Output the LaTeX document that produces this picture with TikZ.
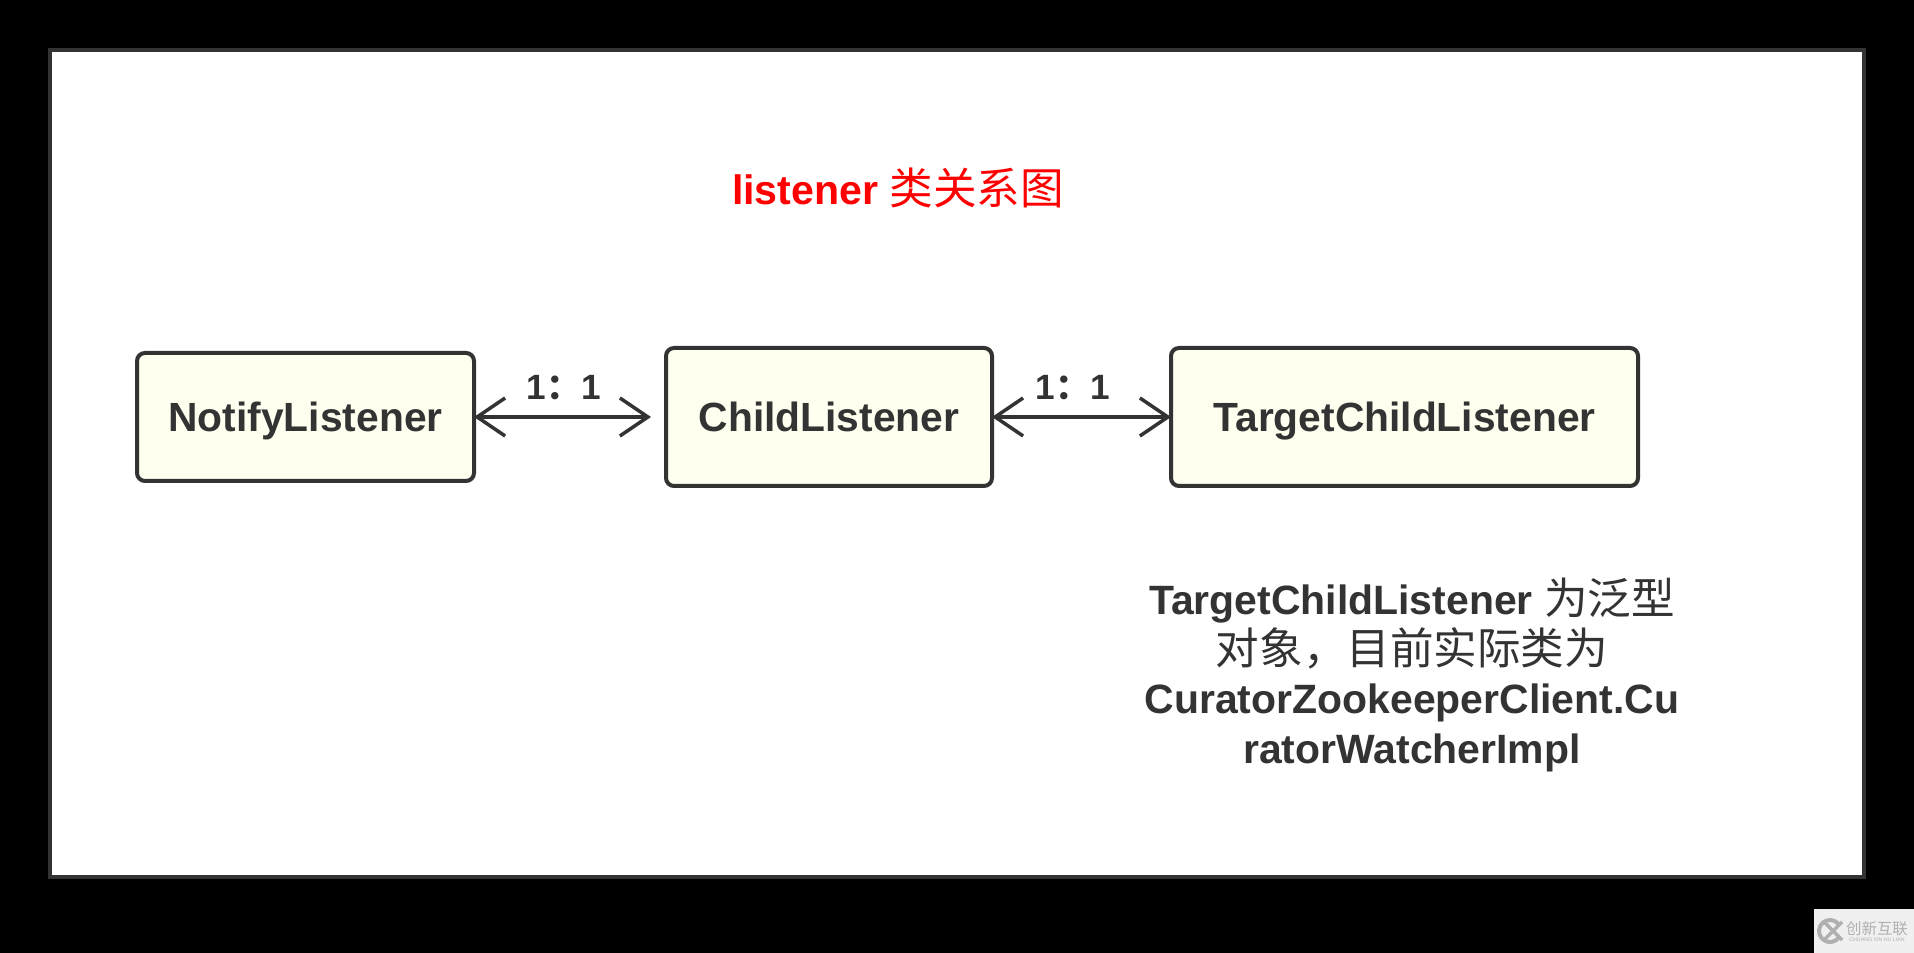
\documentclass[tikz,border=0pt]{standalone}
\usepackage{fontspec}
\setmainfont{Liberation Sans}
\newfontfamily\cjk{Noto Sans CJK SC}
\usetikzlibrary{arrows.meta}
\definecolor{inkgray}{HTML}{333333}
\definecolor{lemon}{HTML}{FEFFEE}
\definecolor{markgray}{HTML}{B0B0B0}
\newcommand{\cjkwide}[1]{{\cjk\mdseries\fontsize{12.4}{14.2}\selectfont #1}}
\tikzset{
	classbox/.style={draw=inkgray,fill=lemon,line width=0.04cm,rounded corners=0.08cm,text=inkgray,font=\fontsize{11.6}{13}\bfseries,minimum height=1.38cm,inner sep=0pt,outer sep=0pt,text height=0.3cm,text depth=0cm},
	ratio/.style={text=inkgray,font=\fontsize{10}{12}\bfseries,inner sep=0pt},
	link/.style={draw=inkgray,line width=0.035cm,{Straight Barb[length=0.28cm,width=0.38cm]}-{Straight Barb[length=0.28cm,width=0.38cm]}}
}
\begin{document}
\begin{tikzpicture}
	\fill[black] (0,0) rectangle (19.14,9.53);
	\useasboundingbox (0,0) rectangle (19.14,9.53);
	\draw[inkgray,line width=0.04cm,fill=white] (0.5,0.76) rectangle (18.64,9.03);
	\node[text=red,font=\fontsize{11.7}{13}\bfseries,inner sep=0pt] (title) at (8.98,7.65) {listener \cjkwide{类关系图}};
	\node[classbox,minimum width=3.37cm,minimum height=1.28cm] (notify) at (3.055,5.36) {NotifyListener};
	\node[classbox,minimum width=3.26cm] (child) at (8.29,5.36) {ChildListener};
	\node[classbox,minimum width=4.67cm] (target) at (14.045,5.36) {TargetChildListener};
	\draw[link,shorten >=0.15cm] (notify) -- (child);
	\draw[link] (child) -- (target);
	\node[ratio] (ratioa) at (5.64,5.65) {1{\cjk ：}1};
	\node[ratio] (ratiob) at (10.73,5.65) {1{\cjk ：}1};
	\node[text=inkgray,font=\fontsize{11.65}{14.2}\bfseries,align=center,inner sep=0pt] (note) at (14.12,2.78) {TargetChildListener \cjkwide{为泛型}\\\cjkwide{对象，目前实际类为}\\CuratorZookeeperClient.Cu\\ratorWatcherImpl};
	% watermark
	\fill[gray!12] (18.14,0) rectangle (19.14,0.44);
	\draw[markgray,line width=0.04cm] (18.3,0.22) ++(40:0.11) arc (40:320:0.11);
	\draw[markgray,line width=0.035cm] (18.24,0.13) -- (18.42,0.31) (18.24,0.31) -- (18.42,0.13);
	\node[text=markgray,font=\cjk\fontsize{4.4}{5}\selectfont,inner sep=0pt] (markname) at (18.77,0.24) {创新互联};
	\node[text=markgray,font=\fontsize{1.5}{2}\selectfont,inner sep=0pt] (markpin) at (18.77,0.13) {CHUANG XIN HU LIAN};
\end{tikzpicture}
\end{document}
